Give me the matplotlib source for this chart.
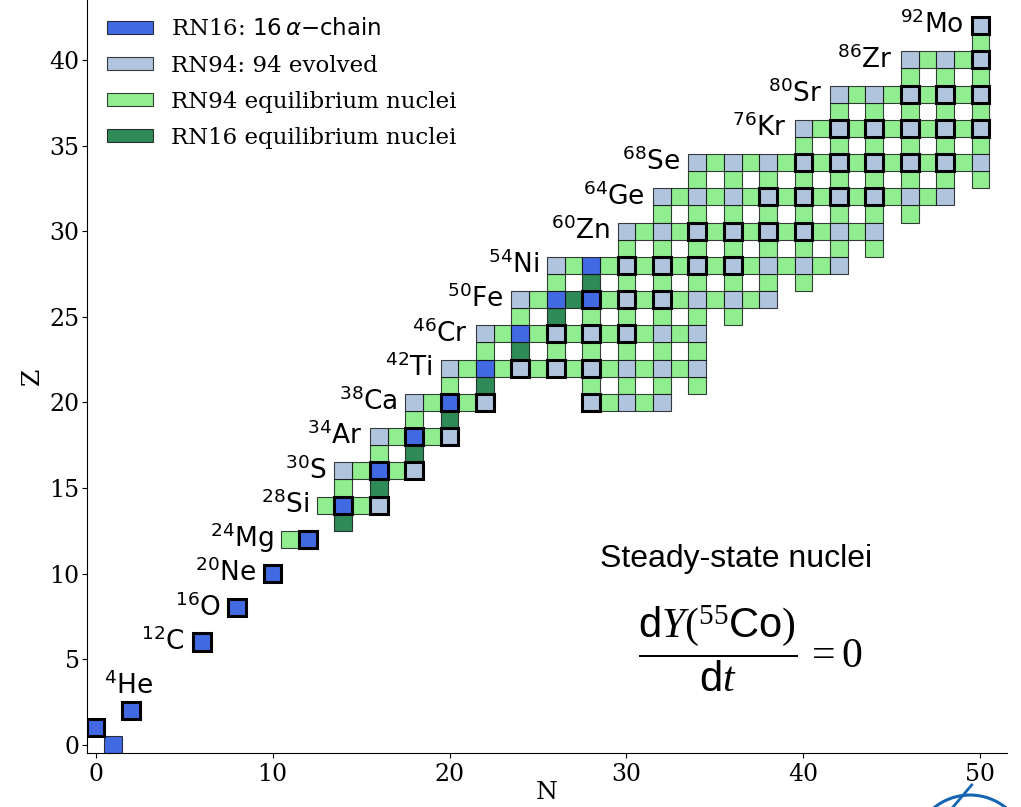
import matplotlib
matplotlib.use("Agg")
import matplotlib.pyplot as plt
from matplotlib.patches import Rectangle, Patch, Arc
from matplotlib.lines import Line2D

plt.rcParams['font.family'] = 'serif'
plt.rcParams['mathtext.fontset'] = 'dejavusans'
# fonts for the equation text (math_fontfamily='custom')
plt.rcParams['mathtext.rm'] = 'Liberation Serif'
plt.rcParams['mathtext.it'] = 'Liberation Serif:italic'
plt.rcParams['mathtext.bf'] = 'Liberation Serif:bold'
plt.rcParams['mathtext.sf'] = 'Liberation Sans'

# (N, Z) of the 16-isotope alpha-chain network
alpha_chain = [(1, 0), (0, 1), (2, 2), (6, 6), (8, 8), (10, 10), (12, 12),
               (14, 14), (16, 16), (18, 18), (20, 20), (22, 22), (24, 24),
               (26, 26), (28, 26), (28, 28)]

# remaining evolved isotopes of the 94 network: Z -> list of N
evolved_94 = {
    14: [16],
    16: [14, 18],
    18: [16, 20],
    20: [18, 22, 28, 30, 32],
    22: [20, 24, 26, 28, 30, 32, 34],
    24: [22, 26, 28, 30, 32, 34],
    26: [24, 30, 32, 34, 36, 38],
    28: [26, 30, 32, 34, 36, 38, 40, 42],
    30: [30, 32, 34, 36, 38, 40, 42, 44],
    32: [32, 34, 36, 38, 40, 42, 44, 46, 48],
    34: [34, 36, 38, 40, 42, 44, 46, 48, 50],
    36: [40, 42, 44, 46, 48, 50],
    38: [42, 44, 46, 48, 50],
    40: [46, 48, 50],
    42: [50],
}

# equilibrium nuclei of the 94 network: Z -> list of N
equil_94 = {
    12: [11],
    14: [13, 15],
    15: [14],
    16: [15, 17],
    17: [16],
    18: [17, 19],
    19: [18],
    20: [19, 21, 29, 31],
    21: [20, 28, 30, 32, 34],
    22: [21, 23, 25, 27, 29, 31, 33],
    23: [22, 26, 28, 30, 32, 34],
    24: [23, 25, 27, 29, 31, 33],
    25: [24, 28, 30, 32, 34, 36],
    26: [25, 29, 31, 33, 35, 37],
    27: [26, 30, 32, 34, 36, 38, 40],
    28: [27, 29, 31, 33, 35, 37, 39, 41],
    29: [30, 32, 34, 36, 38, 40, 42, 44],
    30: [31, 33, 35, 37, 39, 41, 43],
    31: [32, 34, 36, 38, 40, 42, 44, 46],
    32: [33, 35, 37, 39, 41, 43, 45, 47],
    33: [34, 36, 38, 40, 42, 44, 46, 48, 50],
    34: [35, 37, 39, 41, 43, 45, 47, 49],
    35: [40, 42, 44, 46, 48, 50],
    36: [41, 43, 45, 47, 49],
    37: [42, 44, 46, 48, 50],
    38: [43, 45, 47, 49],
    39: [46, 48, 50],
    40: [47, 49],
    41: [50],
}

# equilibrium nuclei of the 16 network
equil_16 = [(14, 13), (16, 15), (18, 17), (20, 19), (22, 21), (24, 23),
            (26, 25), (27, 26), (28, 27)]

# stable isotopes (outlined)
stable = [(0, 1), (2, 2), (6, 6), (8, 8), (10, 10), (12, 12), (14, 14),
          (16, 14), (16, 16), (18, 16), (18, 18), (20, 18), (20, 20),
          (22, 20), (28, 20), (24, 22), (26, 22), (28, 22), (26, 24),
          (28, 24), (30, 24), (28, 26), (30, 26), (32, 26), (30, 28),
          (32, 28), (34, 28), (36, 28), (34, 30), (36, 30), (38, 30),
          (40, 30), (38, 32), (40, 32), (42, 32), (44, 32), (40, 34),
          (42, 34), (44, 34), (46, 34), (48, 34), (42, 36), (44, 36),
          (46, 36), (48, 36), (50, 36), (46, 38), (48, 38), (50, 38),
          (50, 40), (50, 42)]

# isotope labels: (A, element, Z)
iso_labels = [(4, 'He', 2), (12, 'C', 6), (16, 'O', 8), (20, 'Ne', 10),
              (24, 'Mg', 12), (28, 'Si', 14), (30, 'S', 16), (34, 'Ar', 18),
              (38, 'Ca', 20), (42, 'Ti', 22), (46, 'Cr', 24), (50, 'Fe', 26),
              (54, 'Ni', 28), (60, 'Zn', 30), (64, 'Ge', 32), (68, 'Se', 34),
              (76, 'Kr', 36), (80, 'Sr', 38), (86, 'Zr', 40), (92, 'Mo', 42)]

c_alpha = 'royalblue'
c_evolved = 'lightsteelblue'
c_eq94 = 'lightgreen'
c_eq16 = 'seagreen'
edge = (0, 0, 0, 0.75)


def cell(ax, n, z, color, lw=0.8, ec=edge, z_order=2):
    ax.add_patch(Rectangle((n - 0.5, z - 0.5), 1, 1, facecolor=color,
                           edgecolor=ec, linewidth=lw, zorder=z_order))


fig = plt.figure(figsize=(10.21, 8.07), dpi=100)
ax = fig.add_axes([0.0849, 0.0665, 0.9014, 0.9335])

all_cells = []
for z, ns in equil_94.items():
    for n in ns:
        cell(ax, n, z, c_eq94)
        all_cells.append((n, z))
for n, z in equil_16:
    cell(ax, n, z, c_eq16)
    all_cells.append((n, z))
for z, ns in evolved_94.items():
    for n in ns:
        cell(ax, n, z, c_evolved)
        all_cells.append((n, z))
for n, z in alpha_chain:
    cell(ax, n, z, c_alpha)
    all_cells.append((n, z))

# thick outline on the stable ones
for n, z in stable:
    ax.add_patch(Rectangle((n - 0.5, z - 0.5), 1, 1, facecolor='none',
                           edgecolor='black', linewidth=2.2, zorder=3))

# labels to the left of each row
for a, el, z in iso_labels:
    txt = rf"$^{{{a}}}\mathrm{{{el}}}$"
    if el == 'He':
        ax.text(1.9, z + 0.97, txt, ha='center', va='baseline', fontsize=19)
        continue
    n_left = min(n for n, zz in all_cells if zz == z)
    ax.text(n_left - 0.95, z - 0.45, txt, ha='right', va='baseline',
            fontsize=19)

ax.text(36.2, 10.37, 'Steady-state nuclei', family='Liberation Sans',
        fontsize=23, ha='center', va='baseline')
ax.text(37.0, 5.6,
        r"$\dfrac{\mathsf{d}Y(^{55}\mathsf{Co})}{\mathsf{d}t}\,= 0$",
        math_fontfamily='custom', fontsize=30, ha='center', va='center')

ax.set_xlim(-0.5, 51.5)
ax.set_ylim(-0.5, 43.5)
ax.set_xticks([0, 10, 20, 30, 40, 50])
ax.set_yticks([0, 5, 10, 15, 20, 25, 30, 35, 40])
ax.tick_params(labelsize=17)
ax.tick_params(axis='y', pad=1.5)
ax.spines['top'].set_visible(False)
ax.spines['right'].set_visible(False)
ax.set_xlabel('N', fontsize=18, labelpad=-4)
ax.set_ylabel('Z', fontsize=18)

handles = [Patch(facecolor=c_alpha, edgecolor=edge, lw=0.8),
           Patch(facecolor=c_evolved, edgecolor=edge, lw=0.8),
           Patch(facecolor=c_eq94, edgecolor=edge, lw=0.8),
           Patch(facecolor=c_eq16, edgecolor=edge, lw=0.8)]
labels = [r'RN16: $16\,\alpha{-}\mathrm{chain}$', 'RN94: 94 evolved',
          'RN94 equilibrium nuclei', 'RN16 equilibrium nuclei']
ax.legend(handles, labels, loc='upper left', frameon=False, fontsize=16.5,
          handleheight=0.5, labelspacing=0.62, borderaxespad=0.4,
          bbox_to_anchor=(0.002, 1.0))

# corner logo fragment
logo = '#1565b0'
fig.add_artist(Arc((0.950, -0.0558), 0.1117, 0.1413, theta1=10, theta2=170,
                   transform=fig.transFigure, color=logo, lw=2.2))
fig.add_artist(Line2D([0.9517, 0.9301], [0.0273, -0.005],
                      transform=fig.transFigure, color=logo, lw=2.0))

fig.savefig('out.png', dpi=100)
